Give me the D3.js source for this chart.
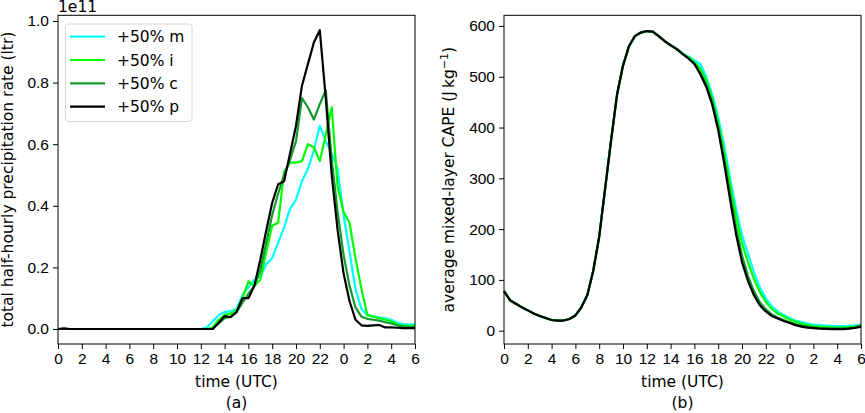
<!DOCTYPE html>
<html>
<head>
<meta charset="utf-8">
<script src="https://cdn.jsdelivr.net/npm/d3@7"></script>
<style>
  body { margin: 0; background: #fff; }
  svg { font-family: "DejaVu Sans", sans-serif; }
  .tick text { font-size: 15.5px; fill: #000; }
  .tick line, .domain { stroke: #000; stroke-width: 1; }
</style>
</head>
<body>
<div id="chart"></div>
<script>
// time in hours since 00 UTC of day 1, half-hourly output
const halfHours = d3.range(0, 30.5, 0.5);
const xTicks = d3.range(0, 31, 2);

const seriesNames = ["+50% m", "+50% i", "+50% c", "+50% p"];
const seriesColors = ["#00ffff", "#00ff00", "#119b2e", "#000000"];

// (a) total half-hourly precipitation rate, units of 1e11 ltr
const precipM = [0,0,0,0,0,0,0,0,0,0,0,0,0,0,0,0,0,0,0,0,0,0,0,0,0,
  0.005,0.025,0.045,0.055,0.058,0.065,0.11,0.135,0.16,0.17,0.21,0.23,0.28,0.33,0.39,0.42,
  0.48,0.52,0.58,0.66,0.61,0.57,0.52,0.37,0.25,0.13,0.065,0.045,0.04,0.038,0.035,0.03,0.02,0.016,0.015,0.015];
const precipI = [0,0,0,0,0,0,0,0,0,0,0,0,0,0,0,0,0,0,0,0,0,0,0,0,0,0,
  0.005,0.03,0.045,0.05,0.06,0.1,0.155,0.14,0.16,0.25,0.335,0.345,0.51,0.54,0.54,
  0.545,0.6,0.59,0.545,0.63,0.72,0.46,0.38,0.345,0.23,0.13,0.045,0.04,0.035,0.03,0.025,0.015,0.01,0.01,0.01];
const precipC = [0,0,0,0,0,0,0,0,0,0,0,0,0,0,0,0,0,0,0,0,0,0,0,0,0,0,
  0,0.018,0.035,0.04,0.055,0.085,0.115,0.14,0.19,0.28,0.37,0.44,0.5,0.55,0.61,
  0.75,0.72,0.68,0.73,0.775,0.55,0.38,0.24,0.14,0.07,0.04,0.033,0.03,0.027,0.022,0.018,0.012,0.008,0.006,0.005];
const precipP = [0,0.002,0,0,0,0,0,0,0,0,0,0,0,0,0,0,0,0,0,0,0,0,0,0,0,0,
  0,0.02,0.042,0.038,0.055,0.1,0.1,0.14,0.225,0.32,0.41,0.47,0.48,0.57,0.66,
  0.79,0.86,0.93,0.97,0.75,0.5,0.32,0.18,0.09,0.03,0.012,0.01,0.012,0.013,0.005,0.005,0.004,0.003,0.003,0.003];

// (b) average mixed-layer CAPE, J kg-1
const capeM = [78,60,53,46,40,34,29,25,21,20,20,23,30,46,70,118,185,280,375,465,522,560,580,587,590,589,580,570,562,555,
  546,540,532,525,500,465,420,365,300,240,188,152,115,85,64,48,38,31,25,20,17,14,12,11,10,9.5,9,9,9.5,10.5,12];
const capeI = [78,60,53,46,40,34,29,25,21,20,20,23,30,46,70,118,185,280,375,465,522,560,580,587,590,589,580,570,562,555,
  545,538,529,516,493,458,410,352,287,225,172,135,102,76,57,43,34,28,22,18,14,11,9,8,7,6.5,6,6,7,8,10];
const capeC = [78,60,53,46,40,34,29,25,21,20,20,23,30,46,70,118,185,280,375,465,522,560,580,587,590,589,580,570,562,555,
  545,536,526,508,485,450,402,340,270,203,148,108,78,56,42,32,26,21,17,13,10,8,6.5,5.5,5,4.5,4.5,4.5,5,6.5,9];
const capeP = [78,60,53,46,40,34,29,25,21,20,20,23,30,46,70,118,185,280,375,465,522,560,580,587,590,589,580,570,562,555,
  545,536,525,505,480,445,395,330,258,190,135,98,70,50,38,29,24,19,15,11,8,6,5,4,3.5,3,3,3,4,5.5,8];

const precipTicks = [0, 0.2, 0.4, 0.6, 0.8, 1.0];
const capeTicks = [0, 100, 200, 300, 400, 500, 600];

const width = 865, height = 413;
const svg = d3.select("#chart").append("svg")
  .attr("width", width)
  .attr("height", height);

function drawPanel(opts) {
  const x = d3.scaleLinear().domain([0, 30]).range([opts.left, opts.right]);
  const y = d3.scaleLinear().domain(opts.yDomain).range([344, 15.3]);
  const g = svg.append("g");

  const line = d3.line()
    .x((d, i) => x(halfHours[i]))
    .y(d => y(d));

  opts.series.forEach((s, k) => {
    g.append("path")
      .datum(s)
      .attr("fill", "none")
      .attr("stroke", seriesColors[k])
      .attr("stroke-width", 2.2)
      .attr("stroke-linejoin", "round")
      .attr("d", line);
  });

  // axes frame
  g.append("rect")
    .attr("x", opts.left).attr("y", 15.3)
    .attr("width", opts.right - opts.left).attr("height", 344 - 15.3)
    .attr("fill", "none").attr("stroke", "#000").attr("stroke-width", 1);

  g.append("g")
    .attr("transform", "translate(0,344)")
    .call(d3.axisBottom(x).tickValues(xTicks).tickSize(5).tickPadding(4)
      .tickFormat(d => d % 24))
    .call(a => a.select(".domain").remove());

  g.append("g")
    .attr("transform", `translate(${opts.left},0)`)
    .call(d3.axisLeft(y).tickValues(opts.yTicks).tickSize(5).tickPadding(4)
      .tickFormat(opts.yFormat))
    .call(a => a.select(".domain").remove());

  const cx = (opts.left + opts.right) / 2;
  g.append("text")
    .attr("x", cx).attr("y", 387)
    .attr("text-anchor", "middle")
    .style("font-size", "15.5px")
    .text("time (UTC)");
  g.append("text")
    .attr("x", cx).attr("y", 408)
    .attr("text-anchor", "middle")
    .style("font-size", "15.5px")
    .text(opts.tag);

  const yl = g.append("text")
    .attr("transform", `translate(${opts.labelX},${(15.3 + 344) / 2}) rotate(-90)`)
    .attr("text-anchor", "middle")
    .style("font-size", "15.5px");
  opts.label(yl);
  return { g, x, y };
}

const left = drawPanel({
  left: 58, right: 415,
  yDomain: [-0.0487, 1.0185],
  yTicks: precipTicks,
  yFormat: d3.format(".1f"),
  series: [precipM, precipI, precipC, precipP],
  tag: "(a)",
  labelX: 13,
  label: t => t.text("total half-hourly precipitation rate (ltr)")
});

left.g.append("text")
  .attr("x", 58).attr("y", 12)
  .style("font-size", "15.5px")
  .text("1e11");

const right = drawPanel({
  left: 504, right: 861,
  yDomain: [-26.2, 621],
  yTicks: capeTicks,
  yFormat: d3.format("d"),
  series: [capeM, capeI, capeC, capeP],
  tag: "(b)",
  labelX: 454,
  label: t => {
    t.append("tspan").text("average mixed-layer CAPE (J\u2009kg");
    t.append("tspan").attr("dy", -6).style("font-size", "11px").text("\u22121");
    t.append("tspan").attr("dy", 6).text(")");
  }
});

// legend
const legend = svg.append("g");
legend.append("rect")
  .attr("x", 65.5).attr("y", 24)
  .attr("width", 126.5).attr("height", 97.5)
  .attr("rx", 3)
  .attr("fill", "#fff").attr("fill-opacity", 0.8)
  .attr("stroke", "#d6d6d6").attr("stroke-width", 1);
seriesNames.forEach((name, k) => {
  const ly = 36.7 + k * 23.3;
  legend.append("line")
    .attr("x1", 70).attr("x2", 105)
    .attr("y1", ly).attr("y2", ly)
    .attr("stroke", seriesColors[k]).attr("stroke-width", 2.2);
  legend.append("text")
    .attr("x", 117).attr("y", ly + 5.5)
    .style("font-size", "15.5px")
    .text(name);
});
</script>
</body>
</html>
